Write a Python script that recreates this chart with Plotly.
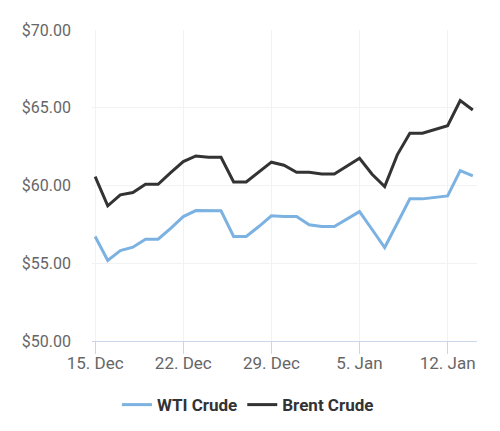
import plotly.graph_objects as go
import pandas as pd

# daily dates, weekends carry the previous value
dates = pd.date_range("2019-12-15", "2020-01-14", freq="D")

wti_crude = [56.72, 55.18, 55.82, 56.03, 56.55, 56.55, 57.25, 58.00, 58.39, 58.37,
             58.37, 56.72, 56.72, 57.36, 58.05, 58.00, 58.00, 57.47, 57.36, 57.36,
             57.85, 58.32, 57.17, 56.01, 57.57, 59.14, 59.14, 59.25, 59.33, 60.96,
             60.62]

brent_crude = [60.57, 58.69, 59.40, 59.55, 60.08, 60.08, 60.83, 61.54, 61.90, 61.82,
               61.82, 60.23, 60.23, 60.85, 61.50, 61.30, 60.85, 60.85, 60.74, 60.74,
               61.26, 61.75, 60.72, 59.93, 61.97, 63.36, 63.36, 63.62, 63.85, 65.46,
               64.86]

tick_dates = ["2019-12-15", "2019-12-22", "2019-12-29", "2020-01-05", "2020-01-12"]

fig = go.Figure()

fig.add_trace(go.Scatter(x=dates, y=wti_crude, name="WTI Crude", mode="lines",
                         line=dict(color="#7cb2e2", width=3)))
fig.add_trace(go.Scatter(x=dates, y=brent_crude, name="Brent Crude", mode="lines",
                         line=dict(color="#333333", width=3)))

# page body has an 8px margin, so margins are shifted by that much
fig.update_layout(
    width=500, height=431,
    margin=dict(l=84, r=31, t=22, b=98, autoexpand=False),
    paper_bgcolor="white", plot_bgcolor="white",
    font=dict(family="Roboto", size=16, color="#666666"),
    showlegend=True,
    legend=dict(orientation="h", x=0.405, xanchor="center",
                y=-0.206, yanchor="middle", itemwidth=30,
                font=dict(size=17, color="#333333", family="Roboto", weight="bold")),
    xaxis=dict(
        type="date",
        range=["2019-12-14 18:00", "2020-01-14 08:00"],
        tickvals=tick_dates,
        tickformat="%-d. %b",
        tickangle=0,
        tickfont=dict(size=17),
        ticklabelstandoff=-5,
        showgrid=True, gridcolor="#f2f2f2", gridwidth=1,
        showline=True, linecolor="#ccd6eb", linewidth=1,
        ticks="outside", ticklen=12, tickcolor="#ccd6eb",
        zeroline=False, automargin=False,
    ),
    yaxis=dict(
        range=[50, 70],
        dtick=5,
        tickprefix="$", tickformat=".2f",
        showgrid=True, gridcolor="#f2f2f2", gridwidth=1,
        showline=False, zeroline=False,
        ticklabelstandoff=20, automargin=False,
    ),
)

fig.write_html("out.html")
